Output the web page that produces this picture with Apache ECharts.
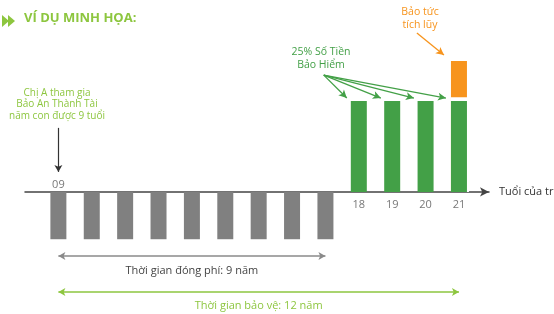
<!DOCTYPE html>
<html>
<head>
<meta charset="utf-8">
<script src="https://cdn.jsdelivr.net/npm/echarts@6/dist/echarts.min.js"></script>
<style>
  html, body { margin: 0; padding: 0; background: #fff; }
  #chart { width: 554px; height: 314px; }
</style>
</head>
<body>
<div id="chart"></div>
<script>
// tuổi của trẻ trên trục ngang
const tuoi = [9, 10, 11, 12, 13, 14, 15, 16, 17, 18, 19, 20, 21];
// phí đóng (cột xám, âm = chi ra) và quyền lợi nhận về
const phiDong  = [-13, -13, -13, -13, -13, -13, -13, -13, -13, '-', '-', '-', '-'];
const quyenLoi = ['-', '-', '-', '-', '-', '-', '-', '-', '-', 25, 25, 25, 25];
const khoangHo = ['-', '-', '-', '-', '-', '-', '-', '-', '-', '-', '-', '-', 1];
const baoTuc   = ['-', '-', '-', '-', '-', '-', '-', '-', '-', '-', '-', '-', 10];
// nhãn tuổi: trên trục và dưới trục
const mocTren = [9];
const mocDuoi = [18, 19, 20, 21];

const xanhNhat = '#8dc63f';
const xanhDam = '#43a047';
const cam = '#f7941d';
const xam = '#808080';
const font = 'Open Sans';

function pairs(vals) {
  return tuoi.map((t, i) => [t, vals[i]]);
}
// cột cam vẽ chồng lên trên cột xanh + khoảng hở
function cong(...arrs) {
  return tuoi.map((t, i) => {
    if (arrs[arrs.length - 1][i] === '-') return [t, '-'];
    let s = 0;
    arrs.forEach(a => { if (a[i] !== '-') s += a[i]; });
    return [t, s];
  });
}

const chart = echarts.init(document.getElementById('chart'));
chart.setOption({
  animation: false,
  textStyle: { fontFamily: font },
  grid: { left: 25, right: 65, top: 10, bottom: 2, outerBoundsMode: 'none', containLabel: false },
  xAxis: {
    type: 'value',
    min: 8,
    max: 21.9,
    interval: 1,
    name: 'Tuổi của trẻ',
    nameLocation: 'end',
    nameGap: 10,
    nameTextStyle: { color: '#333', fontSize: 11, fontFamily: font },
    axisLine: {
      onZero: true,
      symbol: ['none', 'arrow'],
      symbolSize: [7, 9],
      lineStyle: { color: '#444', width: 1.5 }
    },
    axisTick: { show: false },
    splitLine: { show: false },
    axisLabel: { show: false }
  },
  yAxis: {
    type: 'value',
    min: -33,
    max: 50,
    show: false
  },
  series: [
    {
      name: 'Bảo tức',
      type: 'bar',
      barWidth: 16,
      barGap: '-100%',
      itemStyle: { color: cam },
      data: cong(quyenLoi, khoangHo, baoTuc),
      markLine: {
        silent: true,
        symbol: ['none', 'arrow'],
        symbolSize: [6, 8],
        lineStyle: { color: cam, width: 1.3, type: 'solid' },
        label: { show: false },
        data: [
          [{ coord: [19.74, 43.7] }, { coord: [20.55, 37.6] }]
        ]
      }
    },
    {
      name: 'Khoảng',
      type: 'bar',
      barWidth: 18,
      barGap: '-100%',
      itemStyle: { color: '#fff' },
      data: cong(quyenLoi, khoangHo)
    },
    {
      name: 'Quyền lợi',
      type: 'bar',
      barWidth: 16,
      barGap: '-100%',
      itemStyle: { color: xanhDam },
      data: pairs(quyenLoi),
      markLine: {
        silent: true,
        symbol: ['none', 'arrow'],
        symbolSize: [6, 8],
        lineStyle: { color: xanhDam, width: 1.3, type: 'solid' },
        label: { show: false },
        data: [
          [{ coord: [16.95, 32.1] }, { coord: [17.64, 25.8] }],
          [{ coord: [16.95, 32.1] }, { coord: [18.66, 25.8] }],
          [{ coord: [16.95, 32.1] }, { coord: [19.65, 25.8] }],
          [{ coord: [16.95, 32.1] }, { coord: [20.61, 25.8] }]
        ]
      }
    },
    {
      name: 'Phí đóng',
      type: 'bar',
      barWidth: 16,
      barGap: '-100%',
      itemStyle: { color: xam },
      data: pairs(phiDong),
      markLine: {
        silent: true,
        symbol: ['arrow', 'arrow'],
        symbolSize: [6, 7],
        data: [
          [
            { coord: [9, -17.6], lineStyle: { color: '#8a8a8a', width: 1.5, type: 'solid' },
              label: { show: true, position: 'insideMiddleBottom', distance: 9,
                formatter: 'Thời gian đóng phí: 9 năm', color: '#444', fontSize: 11, fontFamily: font } },
            { coord: [17, -17.6] }
          ],
          [
            { coord: [9, -27.5], lineStyle: { color: xanhNhat, width: 1.5, type: 'solid' },
              label: { show: true, position: 'insideMiddleBottom', distance: 8,
                formatter: 'Thời gian bảo vệ: 12 năm', color: xanhNhat, fontSize: 11, fontFamily: font } },
            { coord: [21, -27.5] }
          ],
          [
            { coord: [9, 17.6], symbol: 'none', lineStyle: { color: '#333', width: 1.2, type: 'solid' },
              label: { show: false } },
            { coord: [9, 5.5], symbol: 'arrow' }
          ]
        ]
      }
    },
    {
      name: 'Mốc trên',
      type: 'scatter',
      symbolSize: 0,
      data: mocTren.map(t => [t, 0]),
      label: {
        show: true, position: 'top', distance: 2,
        formatter: p => String(p.value[0]).padStart(2, '0'),
        color: '#555', fontSize: 11, fontFamily: font
      }
    },
    {
      name: 'Mốc dưới',
      type: 'scatter',
      symbolSize: 0,
      data: mocDuoi.map(t => [t, 0]),
      label: {
        show: true, position: 'bottom', distance: 7,
        formatter: p => String(p.value[0]),
        color: '#555', fontSize: 11, fontFamily: font
      }
    }
  ],
  graphic: [
    // tiêu đề
    { type: 'polygon', shape: { points: [[2, 15], [9, 21], [2, 27]] }, style: { fill: xanhNhat } },
    { type: 'polygon', shape: { points: [[8, 15], [15, 21], [8, 27]] }, style: { fill: xanhNhat } },
    {
      type: 'text', left: 24, top: 12,
      style: { text: 'VÍ DỤ MINH HỌA:', fill: xanhNhat, font: 'bold 13px "Open Sans"' }
    },
    {
      type: 'text', x: 57, y: 87,
      style: {
        text: 'Chị A tham gia\nBảo An Thành Tài\nnăm con được 9 tuổi',
        fill: xanhNhat, font: '10px "Open Sans"', align: 'center', lineHeight: 11.5
      }
    },
    {
      type: 'text', x: 321, y: 46,
      style: {
        text: '25% Số Tiền\nBảo Hiểm',
        fill: xanhDam, font: '10.5px "Open Sans"', align: 'center', lineHeight: 13
      }
    },
    {
      type: 'text', x: 420, y: 6,
      style: {
        text: 'Bảo tức\ntích lũy',
        fill: cam, font: '10.5px "Open Sans"', align: 'center', lineHeight: 13
      }
    }
  ]
});
</script>
</body>
</html>
